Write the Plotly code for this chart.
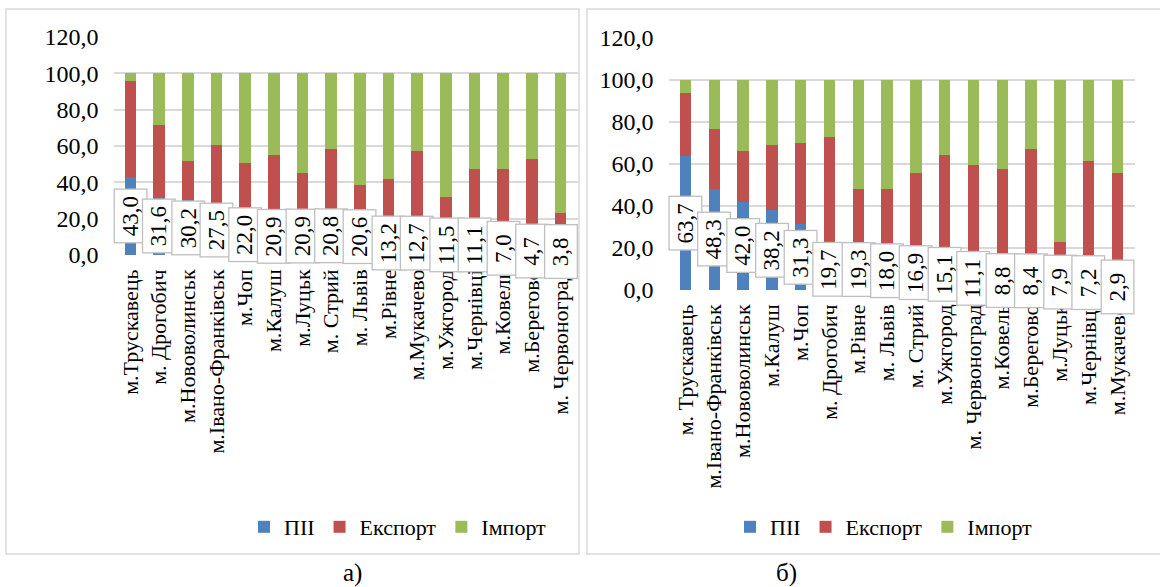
import plotly.graph_objects as go
from plotly.subplots import make_subplots

# ---------- data ----------
cats_a = ["м.Трускавець", "м. Дрогобич", "м.Нововолинськ", "м.Івано-Франківськ", "м.Чоп",
          "м.Калуш", "м.Луцьк", "м. Стрий", "м. Львів", "м.Рівне", "м.Мукачево",
          "м.Ужгород", "м.Чернівці", "м.Ковель", "м.Берегово", "м. Червоноград"]
pii_a = [43.0, 31.6, 30.2, 27.5, 22.0, 20.9, 20.9, 20.8, 20.6, 13.2, 12.7, 11.5, 11.1, 7.0, 4.7, 3.8]
export_a = [52.6, 39.8, 21.4, 32.9, 28.5, 34.0, 24.2, 37.4, 17.9, 28.6, 44.4, 20.4, 36.2, 40.3, 48.0, 19.3]
import_a = [4.4, 28.6, 48.4, 39.6, 49.5, 45.1, 54.9, 41.8, 61.5, 58.2, 42.9, 68.1, 52.7, 52.7, 47.3, 76.9]

cats_b = ["м. Трускавець", "м.Івано-Франківськ", "м.Нововолинськ", "м.Калуш", "м.Чоп",
          "м. Дрогобич", "м.Рівне", "м. Львів", "м. Стрий", "м.Ужгород", "м. Червоноград",
          "м.Ковель", "м.Берегово", "м.Луцьк", "м.Чернівці", "м.Мукачево"]
pii_b = [63.7, 48.3, 42.0, 38.2, 31.3, 19.7, 19.3, 18.0, 16.9, 15.1, 11.1, 8.8, 8.4, 7.9, 7.2, 2.9]
export_b = [30.2, 28.4, 24.1, 30.8, 38.7, 53.1, 28.6, 29.9, 38.7, 49.1, 48.3, 48.7, 58.7, 15.1, 54.1, 52.7]
import_b = [6.1, 23.3, 33.9, 31.0, 30.0, 27.2, 52.1, 52.1, 44.4, 35.8, 40.6, 42.5, 32.9, 77.0, 38.7, 44.4]

series_names = ["ПІІ", "Експорт", "Імпорт"]
colors = ["#4F81BD", "#C0504D", "#9BBB59"]
captions = ["а)", "б)"]

W, H = 1160, 587
FONT = "Liberation Serif, Times New Roman, serif"

def px(x):
    return x / W

def py(y):
    return 1 - y / H

fig = make_subplots(rows=1, cols=2)

for col, (cats, vals, leg) in enumerate(
        [(cats_a, [pii_a, export_a, import_a], "legend"),
         (cats_b, [pii_b, export_b, import_b], "legend2")], start=1):
    for name, v, c in zip(series_names, vals, colors):
        fig.add_trace(go.Bar(x=cats, y=v, name=name, marker_color=c,
                             marker_line_width=0, legend=leg,
                             hoverinfo="x+y+name"), row=1, col=col)

# data labels for ПІІ
for xref, yref, cats, pii in [("x", "y", cats_a, pii_a), ("x2", "y2", cats_b, pii_b)]:
    for c, v in zip(cats, pii):
        fig.add_annotation(x=c, y=v / 2, xref=xref, yref=yref,
                           text=f"{v:.1f}".replace(".", ","), showarrow=False,
                           textangle=-90, font=dict(family=FONT, size=23, color="#000000"),
                           bgcolor="#FFFFFF", bordercolor="#BFBFBF", borderwidth=1.3,
                           borderpad=2, width=48, height=27,
                           xanchor="center", yanchor="middle")

# captions
for cap, cx in zip(captions, [352, 786]):
    fig.add_annotation(x=px(cx), y=py(573), xref="paper", yref="paper", text=cap,
                       showarrow=False, font=dict(family=FONT, size=25, color="#000000"),
                       xanchor="center", yanchor="middle")

# panel borders
fig.add_shape(type="rect", xref="paper", yref="paper",
              x0=px(6), x1=px(579), y0=py(554), y1=py(9),
              line=dict(color="#D9D9D9", width=1.5), layer="below")
fig.add_shape(type="rect", xref="paper", yref="paper",
              x0=px(587), x1=px(1166), y0=py(554), y1=py(9),
              line=dict(color="#D9D9D9", width=1.5), layer="below")

yax = dict(range=[0, 120], dtick=20, tickformat=".1f", showgrid=True,
           gridcolor="#D9D9D9", gridwidth=1.5, zeroline=False, showline=False,
           ticks="", ticklabelstandoff=14, automargin=False,
           tickfont=dict(family=FONT, size=24, color="#000000"))
xax = dict(tickangle=-90, showgrid=False, showline=False, zeroline=False, ticks="",
           ticklabelstandoff=9, automargin=False,
           tickfont=dict(family=FONT, size=22, color="#000000"))

leg_common = dict(orientation="h", xanchor="center", yanchor="middle",
                  traceorder="normal",
                  font=dict(family=FONT, size=22, color="#000000"),
                  bgcolor="rgba(0,0,0,0)", itemclick=False, itemdoubleclick=False)

fig.update_layout(
    width=W, height=H,
    margin=dict(l=0, r=0, t=0, b=0, pad=0, autoexpand=False),
    paper_bgcolor="#FFFFFF", plot_bgcolor="#FFFFFF",
    barmode="stack", bargap=0.6,
    separators=", ",
    font=dict(family=FONT, color="#000000"),
    xaxis=dict(domain=[px(113.5), px(577.5)], **xax),
    xaxis2=dict(domain=[px(668.5), px(1134.5)], **xax),
    yaxis=dict(domain=[py(255), py(37)], **yax),
    yaxis2=dict(domain=[py(290), py(38)], **yax),
    legend=dict(x=px(398), y=py(527), **leg_common),
    legend2=dict(x=px(884), y=py(527), **leg_common),
    showlegend=True,
)

fig.write_html("out.html", config={"displayModeBar": False},
               post_script="document.body.style.margin='0px';document.body.style.overflow='hidden';")
